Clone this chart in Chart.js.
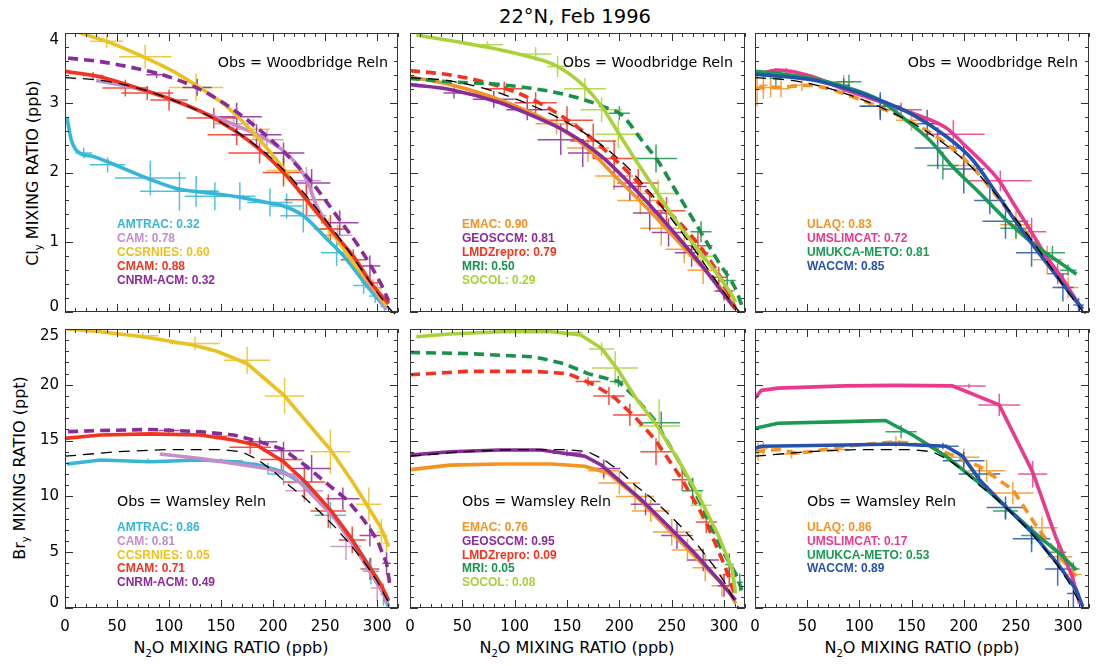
<!DOCTYPE html>
<html><head><meta charset="utf-8">
<script src="https://cdn.jsdelivr.net/npm/chart.js@4.4.1/dist/chart.umd.min.js"></script>
<style>
body{margin:0;background:#fff;width:1112px;height:666px;position:relative;overflow:hidden;font-family:"DejaVu Sans",sans-serif;}
canvas{position:absolute;}
.t{position:absolute;white-space:nowrap;color:#000;line-height:20px;}
.t sub{font-size:10px;vertical-align:-4px;line-height:0;}
.rot{transform:translate(-50%,-50%) rotate(-90deg);}
</style></head><body>
<div class="t" style="left:425px;width:300px;text-align:center;top:7px;font-size:19.5px">22°N, Feb 1996</div>
<div class="t rot" style="left:33px;top:173px;font-size:16px">Cl<sub>y</sub> MIXING RATIO (ppb)</div>
<div class="t rot" style="left:20px;top:468px;font-size:16px">Br<sub>y</sub> MIXING RATIO (ppt)</div>
<div class="t" style="left:81px;width:300px;text-align:center;top:638px;font-size:16px">N<sub>2</sub>O MIXING RATIO (ppb)</div>
<div class="t" style="left:427px;width:300px;text-align:center;top:638px;font-size:16px">N<sub>2</sub>O MIXING RATIO (ppb)</div>
<div class="t" style="left:772px;width:300px;text-align:center;top:638px;font-size:16px">N<sub>2</sub>O MIXING RATIO (ppb)</div>
<script>
// ---------- tick labels ----------
const xTickLabels = [0, 50, 100, 150, 200, 250, 300];
const clyTickLabels = [0, 1, 2, 3, 4];
const bryTickLabels = [0, 5, 10, 15, 20, 25];

// ---------- observations (reference relations) ----------
const clyObsX = [0, 35, 70, 100, 130, 160, 185, 210, 230, 250, 270, 290, 305, 315, 322, 350];
const clyObsY = [3.36, 3.32, 3.21, 3.06, 2.87, 2.63, 2.37, 2.04, 1.70, 1.33, 0.93, 0.50, 0.18, 0.0, -0.06, -0.06];
const bryObsX = [0, 50, 100, 150, 170, 185, 200, 215, 230, 245, 260, 275, 290, 300, 308, 314];
const bryObsY = [13.6, 14.0, 14.2, 14.2, 14.0, 13.3, 12.3, 11.0, 9.9, 8.6, 7.2, 5.6, 3.8, 2.4, 1.0, 0.0];

// ---------- Cly, panel 1 ----------
const amtracClyX = [2, 6, 14, 27, 43, 82, 110, 130, 162, 194, 210, 229, 252, 268, 290, 309];
const amtracClyY = [2.78, 2.47, 2.28, 2.23, 2.14, 1.9, 1.76, 1.72, 1.66, 1.57, 1.52, 1.38, 1.04, 0.80, 0.38, 0.04];
const amtracClyErr = [[18,2.28,8,0.08],[41,2.11,17,0.11],[82,1.92,34,0.25],[110,1.73,38,0.28],[126,1.73,20,0.22],[144,1.66,29,0.2],[168,1.66,15,0.2],[197,1.57,22,0.2],[213,1.52,15,0.18],[229,1.38,22,0.24],[261,0.85,15,0.19],[287,0.38,10,0.12],[298,0.23,6,0.1],[307,0.08,4,0.08]];
const camClyX = [30, 70, 100, 130, 162, 194, 216, 232, 242, 258, 277, 296, 309];
const camClyY = [3.32, 3.2, 3.06, 2.88, 2.69, 2.47, 2.23, 1.9, 1.52, 1.14, 0.71, 0.33, 0.04];
const camClyErr = [[162,2.7,18,0.1],[194,2.47,16,0.15],[232,1.88,14,0.2],[262,1.1,14,0.15],[296,0.35,8,0.12]];
const ccsrniesClyX = [10, 40, 75, 104, 130, 155, 181, 207, 229, 252, 277, 300, 309];
const ccsrniesClyY = [4.02, 3.88, 3.66, 3.45, 3.21, 2.95, 2.57, 2.11, 1.66, 1.23, 0.71, 0.28, 0.09];
const ccsrniesClyErr = [[40,3.88,16,0.1],[77,3.66,25,0.17],[126,3.22,26,0.2],[181,2.62,16,0.15],[210,2.03,16,0.2],[253,1.19,14,0.15],[300,0.33,4,0.1]];
const cmamClyX = [0, 34, 66, 98, 130, 162, 187, 210, 232, 255, 277, 296, 311];
const cmamClyY = [3.45, 3.37, 3.23, 3.07, 2.88, 2.61, 2.33, 2.0, 1.61, 1.19, 0.8, 0.38, 0.12];
const cmamClyErr = [[27,3.39,10,0.05],[58,3.21,22,0.12],[79,3.14,25,0.1],[100,3.04,18,0.15],[143,2.78,26,0.15],[165,2.54,28,0.15],[187,2.28,30,0.15],[210,2.0,20,0.2],[232,1.61,21,0.22],[255,1.19,15,0.2],[277,0.75,12,0.15],[293,0.42,8,0.1]];
const cnrmClyX = [3, 34, 66, 98, 130, 162, 187, 210, 236, 261, 284, 303, 311];
const cnrmClyY = [3.64, 3.59, 3.5, 3.38, 3.19, 2.9, 2.61, 2.3, 1.88, 1.38, 0.9, 0.42, 0.16];
const cnrmClyErr = [[88,3.40,10,0.05],[127,3.22,14,0.12],[165,2.8,24,0.2],[184,2.54,24,0.15],[210,2.28,20,0.15],[237,1.85,18,0.2],[264,1.28,18,0.18],[293,0.66,10,0.15],[308,0.15,4,0.1]];

// ---------- Cly, panel 2 ----------
const emacClyX = [0, 38, 86, 135, 167, 199, 231, 263, 295, 311];
const emacClyY = [3.37, 3.26, 3.04, 2.71, 2.38, 1.9, 1.42, 0.9, 0.38, 0.07];
const emacClyErr = [[140,2.7,20,0.15],[170,2.35,20,0.2],[195,1.95,18,0.2],[220,1.6,22,0.2],[240,1.2,20,0.25],[262,0.9,18,0.2],[280,0.6,15,0.2],[300,0.3,10,0.15]];
const geosClyX = [0, 38, 86, 119, 151, 183, 215, 247, 279, 301, 311];
const geosClyY = [3.26, 3.19, 3.0, 2.8, 2.57, 2.23, 1.76, 1.23, 0.66, 0.23, 0.04];
const geosClyErr = [[42,3.14,10,0.08],[80,3.05,20,0.12],[112,2.9,20,0.15],[144,2.47,22,0.22],[165,2.28,14,0.2],[210,1.8,16,0.2],[229,1.42,16,0.25],[247,1.14,16,0.2],[269,0.85,16,0.2],[300,0.3,8,0.12]];
const lmdzClyX = [0, 38, 70, 103, 135, 167, 199, 231, 263, 288, 304, 311];
const lmdzClyY = [3.46, 3.4, 3.3, 3.14, 2.9, 2.57, 2.14, 1.66, 1.19, 0.71, 0.28, 0.04];
const lmdzClyErr = [[90,3.2,18,0.1],[120,3.0,20,0.15],[150,2.75,25,0.2],[175,2.45,22,0.25],[195,2.2,20,0.25],[218,1.85,20,0.2],[245,1.45,18,0.2],[275,0.95,14,0.2],[295,0.5,8,0.15]];
const mriClyX = [0, 38, 86, 135, 167, 189, 202, 221, 237, 253, 276, 295, 311, 317];
const mriClyY = [3.35, 3.3, 3.26, 3.16, 3.04, 2.92, 2.83, 2.47, 2.16, 1.76, 1.19, 0.71, 0.33, 0.09];
const mriClyErr = [[200,2.85,10,0.1],[235,2.2,20,0.2],[278,1.15,10,0.15],[303,0.45,8,0.15]];
const socolClyX = [6, 54, 86, 119, 141, 167, 183, 199, 215, 234, 253, 272, 292, 308, 311];
const socolClyY = [3.97, 3.85, 3.76, 3.64, 3.52, 3.23, 2.95, 2.57, 2.19, 1.76, 1.33, 0.95, 0.57, 0.23, 0.14];
const socolClyErr = [[74,3.83,15,0.05],[120,3.7,15,0.1],[141,3.52,10,0.15],[167,3.2,20,0.15],[183,2.9,20,0.18],[199,2.55,22,0.2],[237,1.7,20,0.2],[278,0.8,12,0.15]];

// ---------- Cly, panel 3 ----------
const ulaqClyX = [0, 10, 20, 50, 100, 150, 180, 210, 240, 270, 290, 310];
const ulaqClyY = [3.2, 3.22, 3.22, 3.25, 3.05, 2.72, 2.45, 2.05, 1.5, 0.95, 0.55, 0.1];
const ulaqClyErr = [[2,3.2,3,0.25],[8,3.25,4,0.2],[15,3.22,6,0.15],[25,3.2,8,0.12],[45,3.25,10,0.08],[85,3.3,10,0.1],[150,2.75,15,0.15],[200,2.1,15,0.2],[250,1.25,15,0.2],[280,0.75,14,0.2],[300,0.35,10,0.15]];
const umslimClyX = [0, 22, 54, 86, 119, 151, 183, 199, 215, 234, 247, 263, 279, 295, 311];
const umslimClyY = [3.4, 3.47, 3.38, 3.19, 3.02, 2.85, 2.64, 2.42, 2.19, 1.88, 1.57, 1.19, 0.8, 0.47, 0.09];
const umslimClyErr = [[30,3.45,10,0.05],[140,2.9,20,0.1],[190,2.55,30,0.2],[235,1.88,30,0.15],[265,1.15,14,0.2],[290,0.55,10,0.15]];
const umukcaClyX = [0, 22, 54, 86, 119, 144, 167, 189, 215, 240, 269, 292, 308];
const umukcaClyY = [3.45, 3.42, 3.35, 3.23, 3.04, 2.76, 2.47, 2.09, 1.71, 1.33, 0.95, 0.71, 0.54];
const umukcaClyErr = [[20,3.35,6,0.15],[90,3.3,12,0.1],[120,2.95,18,0.15],[180,2.1,15,0.2],[250,1.2,15,0.15],[285,0.85,12,0.1],[300,0.6,8,0.08]];
const waccmClyX = [0, 54, 86, 119, 151, 183, 208, 231, 253, 279, 301, 314];
const waccmClyY = [3.41, 3.33, 3.21, 3.04, 2.83, 2.52, 2.19, 1.71, 1.23, 0.71, 0.28, 0.04];
const waccmClyErr = [[85,3.25,6,0.1],[120,2.95,20,0.2],[165,2.7,12,0.2],[175,2.35,22,0.3],[200,2.05,20,0.35],[225,1.6,15,0.2],[240,1.3,22,0.25],[265,0.85,15,0.2],[295,0.35,10,0.2],[310,0.1,5,0.1]];

// ---------- Bry, panel 4 ----------
const amtracBryX = [2, 34, 82, 130, 162, 187, 210, 232, 252, 274, 293, 306, 311];
const amtracBryY = [12.9, 13.26, 13.1, 13.26, 13.1, 12.8, 12.2, 10.9, 8.8, 6.4, 3.7, 1.6, 0.1];
const amtracBryErr = [[80,13.2,15,0.2],[150,13.2,20,0.2],[195,12.5,8,0.5],[210,12.0,15,1.0],[255,8.3,15,1.2],[294,3.3,8,1.2],[306,1.2,3,1.0]];
const camBryX = [91, 130, 162, 194, 220, 239, 258, 280, 296, 306, 309];
const camBryY = [13.8, 13.4, 12.96, 12.5, 11.8, 10.0, 8.2, 5.2, 2.8, 1.3, 0.4];
const camBryErr = [[170,13.0,15,0.3],[230,10.5,18,1],[270,5.5,15,1.2],[300,1.8,6,1.2]];
const ccsrniesBryX = [2, 34, 75, 123, 146, 175, 210, 255, 277, 293, 303, 311];
const ccsrniesBryY = [25.0, 24.76, 24.3, 23.57, 23.0, 21.9, 19.1, 14.2, 11.2, 8.8, 7.3, 5.5];
const ccsrniesBryErr = [[75,24.4,15,0.3],[125,23.7,24,0.6],[175,22.2,22,1.2],[211,19.0,19,1.6],[255,14.0,19,2.0],[292,9.3,12,1.5],[304,6.8,4,1.2],[309,5.8,3,0.8]];
const cmamBryX = [0, 34, 82, 130, 162, 184, 210, 232, 255, 274, 290, 303, 311];
const cmamBryY = [15.2, 15.5, 15.6, 15.5, 15.05, 14.6, 13.1, 11.2, 8.8, 6.4, 4.0, 2.2, 0.7];
const cmamBryErr = [[146,15.4,10,0.3],[178,14.4,20,0.6],[208,13.3,20,1.0],[230,11.3,20,1.5],[253,8.7,17,1.5],[276,6.1,13,1.2],[293,3.5,9,1.0],[309,0.7,3,0.5]];
const cnrmBryX = [3, 34, 82, 130, 162, 187, 210, 232, 255, 271, 287, 300, 309, 312];
const cnrmBryY = [15.8, 15.9, 16.0, 15.8, 15.5, 14.9, 14.2, 12.7, 10.9, 9.7, 7.9, 6.1, 4.0, 2.2];
const cnrmBryErr = [[100,15.9,10,0.2],[187,14.9,17,0.4],[210,14.1,20,0.8],[237,12.5,18,1.2],[267,9.8,16,1.0],[293,6.5,10,1.0],[309,4.0,4,1.0]];

// ---------- Bry, panel 5 ----------
const emacBryX = [0, 38, 86, 135, 167, 189, 215, 240, 263, 285, 304, 311];
const emacBryY = [12.4, 12.8, 12.9, 12.9, 12.7, 12.1, 10.1, 7.7, 5.5, 3.4, 1.6, 0.4];
const emacBryErr = [[185,12.3,15,0.8],[200,11.2,20,1.0],[215,10.0,18,1.2],[230,8.7,18,1.0],[250,6.8,18,1.2],[265,5.2,15,1.0],[282,3.6,12,1.2],[298,2.0,10,1.0]];
const geosBryX = [0, 38, 86, 125, 167, 183, 199, 221, 247, 272, 295, 311];
const geosBryY = [13.7, 14.0, 14.16, 14.16, 13.6, 12.8, 11.5, 9.7, 7.3, 4.9, 2.5, 0.7];
const geosBryErr = [[150,13.9,14,0.3],[185,12.5,16,0.8],[225,9.3,14,1.0],[255,6.5,15,1.2],[280,4.3,15,1.0],[300,2.0,6,1.0]];
const lmdzBryX = [0, 54, 119, 151, 176, 196, 215, 234, 260, 282, 301, 311];
const lmdzBryY = [20.9, 21.2, 21.2, 21.0, 20.0, 18.8, 17.1, 15.1, 11.5, 7.9, 3.7, 1.0];
const lmdzBryErr = [[170,20.3,12,0.4],[190,19.0,15,0.8],[210,17.3,16,1.0],[235,14.0,15,1.2],[260,11.5,10,1.0],[283,7.7,10,1.0],[305,3.0,6,1.0]];
const mriBryX = [0, 54, 119, 147, 170, 199, 215, 234, 256, 279, 298, 311, 317];
const mriBryY = [22.9, 22.8, 22.5, 21.9, 21.0, 20.3, 18.9, 16.8, 13.3, 9.1, 5.2, 3.1, 1.6];
const mriBryErr = [[199,20.3,8,0.5],[240,16.6,18,1.0],[270,10.5,10,1.2],[305,3.9,4,1.0],[315,2.3,3,0.8]];
const socolBryX = [6, 38, 86, 135, 163, 183, 199, 215, 237, 256, 276, 295, 308, 311];
const socolBryY = [24.3, 24.55, 24.76, 24.76, 24.46, 23.27, 21.3, 18.9, 16.2, 13.3, 10.0, 6.4, 3.4, 1.3];
const socolBryErr = [[150,24.7,15,0.3],[183,23.2,12,0.6],[196,21.5,22,1.5],[238,16.3,20,2.4],[278,9.2,10,1.2],[308,2.8,4,1.0]];

// ---------- Bry, panel 6 ----------
const ulaqBryX = [0, 22, 38, 54, 86, 135, 167, 189, 215, 247, 272, 292, 308];
const ulaqBryY = [14.0, 14.2, 13.9, 14.0, 14.5, 14.9, 14.5, 13.7, 12.7, 10.6, 7.0, 4.6, 2.8];
const ulaqBryErr = [[3,14.0,3,0.8],[8,14.3,4,0.6],[35,13.8,8,0.4],[80,14.2,10,0.3],[135,14.9,12,0.5],[200,13.5,15,0.8],[222,12.3,18,1.0],[247,10.3,20,1.0],[275,7.2,15,1.0],[292,4.6,12,0.8],[305,3.0,8,0.6]];
const umslimBryX = [0, 6, 22, 86, 135, 189, 234, 266, 288, 304, 311];
const umslimBryY = [18.8, 19.5, 19.7, 19.9, 19.95, 19.9, 18.2, 12.2, 6.4, 2.8, 0.4];
const umslimBryErr = [[205,19.9,16,0.2],[234,18.2,20,1.0],[266,12.0,14,1.2]];
const umukcaBryX = [0, 22, 86, 125, 151, 183, 215, 247, 272, 292, 308];
const umukcaBryY = [16.1, 16.55, 16.7, 16.8, 15.5, 13.6, 11.2, 8.5, 6.4, 4.9, 3.4];
const umukcaBryErr = [[110,16.8,10,0.1],[140,15.8,15,0.6],[240,8.7,12,0.8],[265,6.5,10,0.8],[290,5.0,8,1.0],[305,3.5,6,0.6]];
const waccmBryX = [0, 6, 86, 135, 183, 199, 215, 240, 266, 292, 308, 314];
const waccmBryY = [14.3, 14.5, 14.6, 14.7, 14.5, 13.6, 11.5, 9.1, 6.7, 3.7, 1.6, 0.1];
const waccmBryErr = [[180,14.5,15,0.3],[200,13.2,20,0.8],[215,12.0,20,0.8],[240,9.0,18,1.0],[265,6.2,18,1.2],[290,3.5,12,1.5],[305,1.3,6,1.2]];

// ---------- skill scores (legend text) ----------
const clyScores1 = ['AMTRAC: 0.32', 'CAM: 0.78', 'CCSRNIES: 0.60', 'CMAM: 0.88', 'CNRM-ACM: 0.32'];
const clyScores2 = ['EMAC: 0.90', 'GEOSCCM: 0.81', 'LMDZrepro: 0.79', 'MRI: 0.50', 'SOCOL: 0.29'];
const clyScores3 = ['ULAQ: 0.83', 'UMSLIMCAT: 0.72', 'UMUKCA-METO: 0.81', 'WACCM: 0.85'];
const bryScores1 = ['AMTRAC: 0.86', 'CAM: 0.81', 'CCSRNIES: 0.05', 'CMAM: 0.71', 'CNRM-ACM: 0.49'];
const bryScores2 = ['EMAC: 0.76', 'GEOSCCM: 0.95', 'LMDZrepro: 0.09', 'MRI: 0.05', 'SOCOL: 0.08'];
const bryScores3 = ['ULAQ: 0.86', 'UMSLIMCAT: 0.17', 'UMUKCA-METO: 0.53', 'WACCM: 0.89'];

// ---------- styles ----------
const C = {amtrac:'#36b6d6', cam:'#c28ecb', ccsr:'#e9c222', cmam:'#f2331f', cnrm:'#8b2b99',
  emac:'#f39322', geos:'#8b2b99', lmdz:'#f2331f', mri:'#18924a', socol:'#a9d139',
  ulaq:'#f39322', umslim:'#ea3a8d', umukca:'#1a9a52', waccm:'#2453ad'};
const DASH = [10, 6];

const panels = [
 {box:[65,33,333,279], ymax:4, ymajor:1, yminor:0.2, yLabels:clyTickLabels, xLabels:null, obs:[clyObsX,clyObsY], smooth:true,
  obsText:'Obs = Woodbridge Reln', obsAlign:'right', obsPos:[323,30], legPos:[52,192], legStep:14, scores:clyScores1,
  series:[[amtracClyX,amtracClyY,amtracClyErr,C.amtrac,null],[camClyX,camClyY,camClyErr,C.cam,null],[ccsrniesClyX,ccsrniesClyY,ccsrniesClyErr,C.ccsr,null],[cmamClyX,cmamClyY,cmamClyErr,C.cmam,null],[cnrmClyX,cnrmClyY,cnrmClyErr,C.cnrm,DASH]],
  colors:[C.amtrac,C.cam,C.ccsr,C.cmam,C.cnrm]},
 {box:[410,33,335,279], ymax:4, ymajor:1, yminor:0.2, yLabels:null, xLabels:null, obs:[clyObsX,clyObsY], smooth:true,
  obsText:'Obs = Woodbridge Reln', obsAlign:'right', obsPos:[323,30], legPos:[52,192], legStep:14, scores:clyScores2,
  series:[[emacClyX,emacClyY,emacClyErr,C.emac,null],[geosClyX,geosClyY,geosClyErr,C.geos,null],[lmdzClyX,lmdzClyY,lmdzClyErr,C.lmdz,DASH],[mriClyX,mriClyY,mriClyErr,C.mri,DASH],[socolClyX,socolClyY,socolClyErr,C.socol,null]],
  colors:[C.emac,C.geos,C.lmdz,C.mri,C.socol]},
 {box:[755,33,334,279], ymax:4, ymajor:1, yminor:0.2, yLabels:null, xLabels:null, obs:[clyObsX,clyObsY], smooth:true,
  obsText:'Obs = Woodbridge Reln', obsAlign:'right', obsPos:[323,30], legPos:[52,192], legStep:14, scores:clyScores3,
  series:[[ulaqClyX,ulaqClyY,ulaqClyErr,C.ulaq,DASH],[umslimClyX,umslimClyY,umslimClyErr,C.umslim,null],[umukcaClyX,umukcaClyY,umukcaClyErr,C.umukca,null],[waccmClyX,waccmClyY,waccmClyErr,C.waccm,null]],
  colors:[C.ulaq,C.umslim,C.umukca,C.waccm]},
 {box:[65,329,333,279], ymax:25, ymajor:5, yminor:1, yLabels:bryTickLabels, xLabels:xTickLabels, obs:[bryObsX,bryObsY], smooth:false,
  obsText:'Obs = Wamsley Reln', obsAlign:'left', obsPos:[52,173], legPos:[52,199], legStep:13.6, scores:bryScores1,
  series:[[amtracBryX,amtracBryY,amtracBryErr,C.amtrac,null],[camBryX,camBryY,camBryErr,C.cam,null],[ccsrniesBryX,ccsrniesBryY,ccsrniesBryErr,C.ccsr,null],[cmamBryX,cmamBryY,cmamBryErr,C.cmam,null],[cnrmBryX,cnrmBryY,cnrmBryErr,C.cnrm,DASH]],
  colors:[C.amtrac,C.cam,C.ccsr,C.cmam,C.cnrm]},
 {box:[410,329,335,279], ymax:25, ymajor:5, yminor:1, yLabels:null, xLabels:xTickLabels, obs:[bryObsX,bryObsY], smooth:false,
  obsText:'Obs = Wamsley Reln', obsAlign:'left', obsPos:[52,173], legPos:[52,199], legStep:13.6, scores:bryScores2,
  series:[[emacBryX,emacBryY,emacBryErr,C.emac,null],[geosBryX,geosBryY,geosBryErr,C.geos,null],[lmdzBryX,lmdzBryY,lmdzBryErr,C.lmdz,DASH],[mriBryX,mriBryY,mriBryErr,C.mri,DASH],[socolBryX,socolBryY,socolBryErr,C.socol,null]],
  colors:[C.emac,C.geos,C.lmdz,C.mri,C.socol]},
 {box:[755,329,334,279], ymax:25, ymajor:5, yminor:1, yLabels:null, xLabels:xTickLabels, obs:[bryObsX,bryObsY], smooth:false,
  obsText:'Obs = Wamsley Reln', obsAlign:'left', obsPos:[52,173], legPos:[52,199], legStep:13.6, scores:bryScores3,
  series:[[ulaqBryX,ulaqBryY,ulaqBryErr,C.ulaq,DASH],[umslimBryX,umslimBryY,umslimBryErr,C.umslim,null],[umukcaBryX,umukcaBryY,umukcaBryErr,C.umukca,null],[waccmBryX,waccmBryY,waccmBryErr,C.waccm,null]],
  colors:[C.ulaq,C.umslim,C.umukca,C.waccm]}
];

const PAD = {left:65, top:12, right:23, bottom:48};
const FONT = '"DejaVu Sans", sans-serif';
const LFONT = '"Liberation Sans", Arial, sans-serif';

function decoPlugin(p){
  return {
    id:'deco',
    beforeDatasetsDraw(chart){
      const {ctx, chartArea:a, scales:{x, y}} = chart;
      ctx.save();
      ctx.beginPath(); ctx.rect(a.left, a.top, a.right-a.left, a.bottom-a.top); ctx.clip();
      ctx.lineWidth = 1.5; ctx.globalAlpha = 0.85;
      p.series.forEach(s => {
        ctx.strokeStyle = s[3];
        s[2].forEach(b => {
          const cx = x.getPixelForValue(b[0]), cy = y.getPixelForValue(b[1]);
          ctx.beginPath();
          ctx.moveTo(x.getPixelForValue(b[0]-b[2]), cy); ctx.lineTo(x.getPixelForValue(b[0]+b[2]), cy);
          ctx.moveTo(cx, y.getPixelForValue(b[1]-b[3])); ctx.lineTo(cx, y.getPixelForValue(b[1]+b[3]));
          ctx.stroke();
        });
      });
      ctx.restore();
    },
    afterDraw(chart){
      const {ctx, chartArea:a, scales:{x, y}} = chart;
      ctx.save();
      ctx.strokeStyle = '#333'; ctx.lineWidth = 1;
      ctx.strokeRect(a.left+0.5, a.top+0.5, a.right-a.left-1, a.bottom-a.top-1);
      ctx.beginPath();
      for (let v = 0; v <= 320; v += 10) {
        const px = Math.round(x.getPixelForValue(v)) + 0.5, L = (v % 50 === 0) ? 8 : 4;
        ctx.moveTo(px, a.bottom); ctx.lineTo(px, a.bottom - L);
        ctx.moveTo(px, a.top); ctx.lineTo(px, a.top + L);
      }
      const n = Math.round(p.ymax / p.yminor), per = Math.round(p.ymajor / p.yminor);
      for (let i = 0; i <= n; i++) {
        const py = Math.round(y.getPixelForValue(i * p.yminor)) + 0.5, L = (i % per === 0) ? 8 : 4;
        ctx.moveTo(a.left, py); ctx.lineTo(a.left + L, py);
        ctx.moveTo(a.right, py); ctx.lineTo(a.right - L, py);
      }
      ctx.stroke();
      ctx.fillStyle = '#000';
      ctx.font = '15px ' + FONT;
      if (p.yLabels) {
        ctx.textAlign = 'right'; ctx.textBaseline = 'middle';
        p.yLabels.forEach(v => {
          let py = y.getPixelForValue(v);
          py = Math.min(Math.max(py, a.top + 7), a.bottom - 5);
          ctx.fillText(String(v), a.left - 6, py);
        });
      }
      if (p.xLabels) {
        ctx.textAlign = 'center'; ctx.textBaseline = 'middle';
        p.xLabels.forEach(v => ctx.fillText(String(v), x.getPixelForValue(v), a.bottom + 19));
      }
      ctx.font = '14.3px ' + FONT; ctx.textBaseline = 'middle'; ctx.textAlign = p.obsAlign;
      ctx.fillText(p.obsText, a.left + p.obsPos[0], a.top + p.obsPos[1]);
      ctx.font = 'bold 12px ' + LFONT; ctx.textAlign = 'left';
      p.scores.forEach((t, i) => {
        ctx.fillStyle = p.colors[i];
        ctx.fillText(t, a.left + p.legPos[0], a.top + p.legPos[1] + i * p.legStep);
      });
      ctx.restore();
    }
  };
}

panels.forEach(p => {
  const [bl, bt, bw, bh] = p.box;
  const c = document.createElement('canvas');
  c.width = bw + PAD.left + PAD.right; c.height = bh + PAD.top + PAD.bottom;
  c.style.left = (bl - PAD.left) + 'px'; c.style.top = (bt - PAD.top) + 'px';
  c.style.width = c.width + 'px'; c.style.height = c.height + 'px';
  document.body.appendChild(c);
  const N = p.series.length;
  const interp = p.smooth ? {cubicInterpolationMode: 'monotone'} : {tension: 0};
  const datasets = p.series.map((s, i) => Object.assign({
    data: s[0].map((xv, k) => ({x: xv, y: s[1][k]})),
    borderColor: s[3], borderWidth: 3.6, borderDash: s[4] || [], pointRadius: 0,
    order: 10 + N - i, fill: false
  }, interp));
  datasets.push(Object.assign({
    data: p.obs[0].map((xv, k) => ({x: xv, y: p.obs[1][k]})),
    borderColor: '#000', borderWidth: 1.3, borderDash: [11, 7], pointRadius: 0,
    order: 0, fill: false, clip: false
  }, interp));
  new Chart(c, {
    type: 'line',
    data: {datasets},
    options: {
      responsive: false, animation: false, devicePixelRatio: 1,
      layout: {padding: PAD},
      scales: {
        x: {type: 'linear', min: 0, max: 320, display: false},
        y: {type: 'linear', min: 0, max: p.ymax, display: false}
      },
      plugins: {legend: {display: false}, tooltip: {enabled: false}}
    },
    plugins: [decoPlugin(p)]
  });
});
</script>
</body></html>
